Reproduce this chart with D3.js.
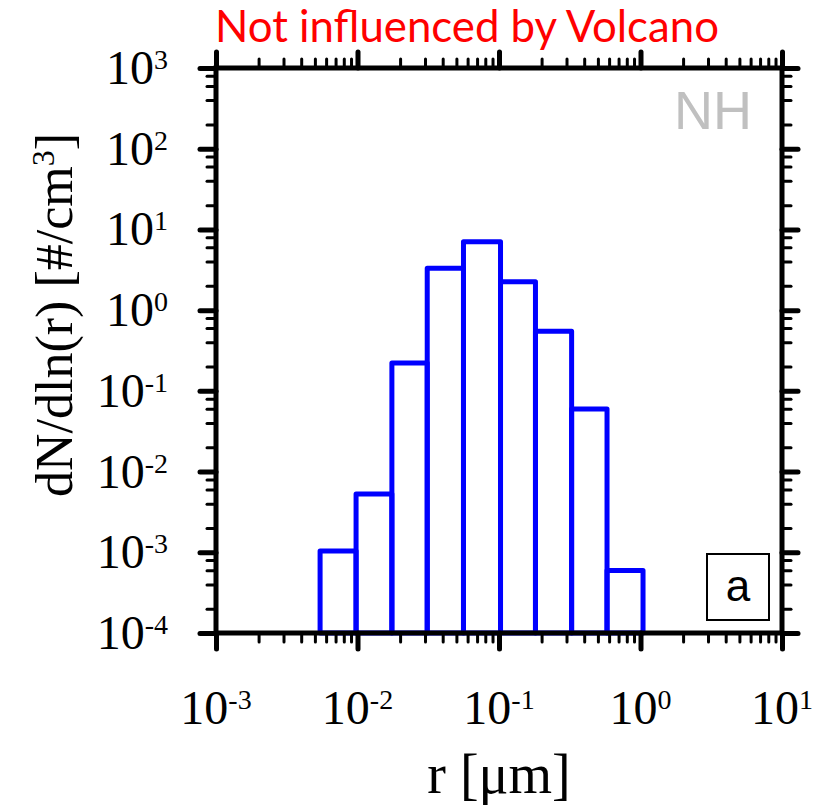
<!DOCTYPE html>
<html>
<head>
<meta charset="utf-8">
<script src="https://cdn.jsdelivr.net/npm/d3@7"></script>
<style>
  html, body { margin: 0; padding: 0; background: #fff; }
  svg { display: block; }
</style>
</head>
<body>
<svg id="chart" width="813" height="805"></svg>
<script>
// ---------------- data ----------------
const binEdges = [0.00544, 0.00977, 0.0175, 0.0311, 0.0561, 0.1025, 0.1810, 0.3260, 0.5800, 1.042];
const binValues = [0.00104, 0.00527, 0.222, 3.30, 7.06, 2.24, 0.548, 0.0597, 0.000595];
const xTickExp = [-3, -2, -1, 0, 1];
const yTickExp = [-4, -3, -2, -1, 0, 1, 2, 3];
const xMinorMult = [2, 3, 4, 5, 6, 7, 8, 9];
const yMinorMult = [2, 4, 6, 8];
const titleText = "Not influenced by Volcano";
const regionText = "NH";
const panelText = "a";
const xTitle = "r [μm]";

// ---------------- layout ----------------
const svg = d3.select("#chart");
const L = 216, R = 782, T = 68, B = 633;
const x = d3.scaleLog().domain([1e-3, 1e1]).range([L, R]);
const y = d3.scaleLog().domain([1e-4, 1e3]).range([B, T]);
const serif = "'Liberation Serif','Times New Roman',serif";
const sans = "'Liberation Sans',Arial,sans-serif";

const xMajor = xTickExp.map(e => Math.pow(10, e));
const yMajor = yTickExp.map(e => Math.pow(10, e));
const xMinor = [];
xTickExp.slice(0, -1).forEach(e => xMinorMult.forEach(m => xMinor.push(m * Math.pow(10, e))));
const yMinor = [];
yTickExp.slice(0, -1).forEach(e => yMinorMult.forEach(m => yMinor.push(m * Math.pow(10, e))));

// ---------------- bars ----------------
const bars = binValues.map((v, i) => ({ x0: binEdges[i], x1: binEdges[i + 1], v }));
svg.append("g").selectAll("rect").data(bars).join("rect")
  .attr("x", d => x(d.x0))
  .attr("width", d => x(d.x1) - x(d.x0))
  .attr("y", d => y(d.v))
  .attr("height", d => B - y(d.v))
  .attr("fill", "none")
  .attr("stroke", "#0000ff")
  .attr("stroke-width", 5)
  .attr("stroke-linejoin", "round");

// ---------------- axes ----------------
function styleAxis(g, w) {
  g.select(".domain").remove();
  g.selectAll(".tick line").attr("stroke", "#000").attr("stroke-width", w).attr("stroke-linecap", "round");
  g.selectAll(".tick text").remove();
}
const majLen = 16, minLen = 9;
[[d3.axisBottom, B], [d3.axisTop, T]].forEach(([fn, pos]) => {
  svg.append("g").attr("transform", `translate(0,${pos})`)
    .call(fn(x).tickValues(xMinor).tickSize(minLen).tickSizeOuter(0)).call(g => styleAxis(g, 3));
  svg.append("g").attr("transform", `translate(0,${pos})`)
    .call(fn(x).tickValues(xMajor).tickSize(majLen).tickSizeOuter(0)).call(g => styleAxis(g, 5));
});
[[d3.axisLeft, L], [d3.axisRight, R]].forEach(([fn, pos]) => {
  svg.append("g").attr("transform", `translate(${pos},0)`)
    .call(fn(y).tickValues(yMinor).tickSize(minLen).tickSizeOuter(0)).call(g => styleAxis(g, 3));
  svg.append("g").attr("transform", `translate(${pos},0)`)
    .call(fn(y).tickValues(yMajor).tickSize(majLen).tickSizeOuter(0)).call(g => styleAxis(g, 5));
});
svg.append("rect").attr("x", L).attr("y", T).attr("width", R - L).attr("height", B - T)
  .attr("fill", "none").attr("stroke", "#000").attr("stroke-width", 5);

// ---------------- tick labels ----------------
function powLabel(sel, e) {
  sel.append("tspan").text("10");
  sel.append("tspan").attr("font-size", 28).attr("dy", -15).text(e);
}
svg.append("g").selectAll("text").data(xTickExp).join("text")
  .attr("x", d => x(Math.pow(10, d))).attr("y", 724)
  .attr("text-anchor", "middle").attr("font-family", serif).attr("font-size", 48)
  .each(function (d) { powLabel(d3.select(this), d); });
svg.append("g").selectAll("text").data(yTickExp).join("text")
  .attr("x", 168).attr("y", d => y(Math.pow(10, d)) + 16)
  .attr("text-anchor", "end").attr("font-family", serif).attr("font-size", 48)
  .each(function (d) { powLabel(d3.select(this), d); });

// ---------------- titles ----------------
const title = svg.append("text").attr("x", 467).attr("y", 42).attr("text-anchor", "middle")
  .attr("font-family", "Lato, 'Open Sans', sans-serif").attr("font-size", 40).attr("fill", "#ff0000").text(titleText);
const tl = title.node().getComputedTextLength();
title.attr("font-size", 40 * 504 / tl);

svg.append("text").attr("x", 499).attr("y", 793).attr("text-anchor", "middle")
  .attr("font-family", serif).attr("font-size", 56).text(xTitle);

const yt = svg.append("text").attr("transform", "translate(72,315) rotate(-90)")
  .attr("text-anchor", "middle").attr("font-family", serif).attr("font-size", 52);
yt.append("tspan").text("dN/dln(r) [#/cm");
yt.append("tspan").attr("font-size", 32).attr("dy", -18).text("3");
yt.append("tspan").attr("dy", 18).text("]");

svg.append("text").attr("x", 752).attr("y", 129).attr("text-anchor", "end")
  .attr("font-family", sans).attr("font-size", 54).attr("fill", "#c0c0c0").text(regionText);

svg.append("rect").attr("x", 707).attr("y", 554).attr("width", 62).attr("height", 66)
  .attr("fill", "#fff").attr("stroke", "#000").attr("stroke-width", 2);
svg.append("text").attr("x", 738).attr("y", 601).attr("text-anchor", "middle")
  .attr("font-family", sans).attr("font-size", 44).text(panelText);
</script>
</body>
</html>
